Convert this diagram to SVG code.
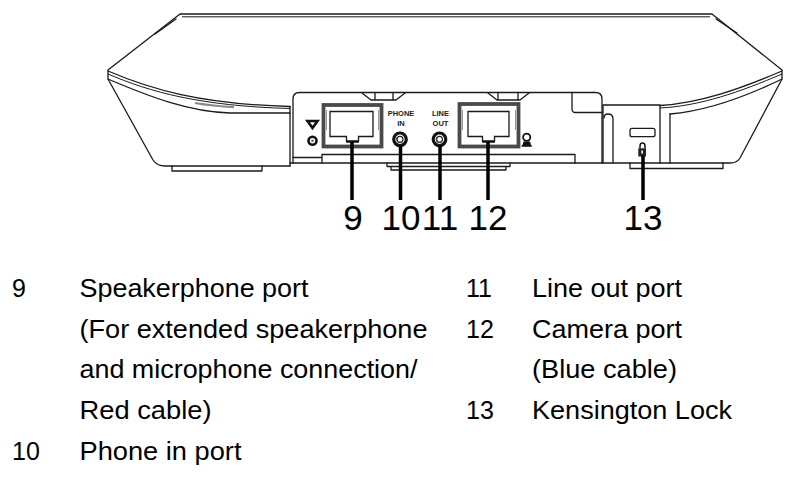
<svg xmlns="http://www.w3.org/2000/svg" width="802" height="503" viewBox="0 0 802 503">
<style>
.ln{fill:none;stroke:#1a1a1a;stroke-width:1.3;stroke-linejoin:round;stroke-linecap:round}
.thin{fill:none;stroke:#1a1a1a;stroke-width:1}
.frame{fill:#fff;stroke:#4a4a4a;stroke-width:3.8}
.mark{stroke:#999;stroke-width:1;fill:none}
.rj{fill:#fff;stroke:#1a1a1a;stroke-width:1.3;stroke-linejoin:miter}
.jack{fill:#fff;stroke:#111;stroke-width:3.2}
.jin{fill:#fff;stroke:#222;stroke-width:1.2}
.lead{stroke:#000;stroke-width:3.5;fill:none}
.num{font-family:"Liberation Sans",Arial,sans-serif;font-size:35px;fill:#000;text-anchor:middle}
.txt{font-family:"Liberation Sans",Arial,sans-serif;font-size:25px;fill:#000}
.lbl{font-family:"Liberation Sans",Arial,sans-serif;font-size:7.5px;font-weight:bold;fill:#222;text-anchor:middle}
</style>
<rect width="802" height="503" fill="#fff"/>
<g id="device">
  <path class="ln" d="M108,78 L108,70 L180,14 L712,14 L782,70 L782,78"/>
  <path class="thin" d="M182,16.8 L710,16.8"/>
  <path class="ln" d="M176,19 L155,34"/>
  <path class="ln" d="M716,19 L737,33"/>
  <path class="ln" d="M108,71 C150,89 200,104 290,106.5"/>
  <path class="thin" d="M108,74 C150,92 200,106 290,108.5"/>
  <path d="M195,103 C210,105.5 222,106.5 234,107.2" stroke="#888" stroke-width="2.2" fill="none"/>
  <path class="ln" d="M108,79 C150,97 190,112 230,113 L290,113"/>
  <path class="ln" d="M108,79 L153,160 Q157,166 165,166 L290,166"/>
  <path class="ln" d="M290,106.5 V166"/>
  <path class="ln" d="M172,166 V171 H262 V166"/>
  <path class="ln" d="M782,71 C740,89 700,103 660,105.5"/>
  <path class="thin" d="M782,74 C740,92 700,106 660,108"/>
  <path class="ln" d="M782,79 C745,97 705,111 670,114"/>
  <path class="ln" d="M782,79 L740,158 Q737,163 730,163 L290,163"/>
  <path class="ln" d="M630,163 V168.5 H723 V163"/>
</g>
<g id="panel">
  <path class="ln" d="M293,163 V99 Q293,92.5 299.5,92.5 H595.5 Q602,92.5 602,99 V163"/>
  <path class="ln" d="M572,92.5 V109 Q572,112.5 575.5,112.5 H602"/>
  <path class="ln" d="M362,93 L371,100 H396 L405,93 M375,100 V93 M393,100 V93"/>
  <path class="ln" d="M488,93 L497,100 H520 L529,93 M498,100 V93 M518,100 V93"/>
  <path class="ln" d="M322,163 V154.5 H575 V163 M293,157.5 H322"/>
  <path class="ln" d="M387,163 V166.5 H510 V163 M391,166.5 V170 H506 V166.5"/>
</g>
<g id="audio-symbol">
  <path d="M307.5,121 H317.5 L312.5,128 Z" fill="none" stroke="#111" stroke-width="2.6" stroke-linejoin="miter"/>
  <circle cx="312.5" cy="140.7" r="4" fill="#fff" stroke="#111" stroke-width="2.6"/>
  <circle cx="312.5" cy="140.7" r="1.3" fill="#666"/>
</g>
<g id="port9">
  <rect class="frame" x="323.5" y="105" width="58" height="41.5"/>
  <path class="mark" d="M326.5,110 V130 M378.5,110 V130"/>
  <path class="rj" d="M330,111.5 H373 V136.5 H358.5 V141.5 H346.5 V136.5 H330 Z"/>
  <path d="M346.5,141.5 H358.5" stroke="#111" stroke-width="2.4"/>
</g>
<g id="port10">
  <text class="lbl" x="401" y="116">PHONE</text>
  <text class="lbl" x="401" y="126">IN</text>
  <circle class="jack" cx="400" cy="139.3" r="6.3"/>
  <circle class="jin" cx="400" cy="139.3" r="3"/>
  <path d="M397.5,137.5 A3,3 0 0 0 397.5,141.1" stroke="#333" stroke-width="1.5" fill="none"/>
</g>
<g id="port11">
  <text class="lbl" x="440.5" y="116">LINE</text>
  <text class="lbl" x="440.5" y="126">OUT</text>
  <circle class="jack" cx="439.5" cy="139.3" r="6.3"/>
  <circle class="jin" cx="439.5" cy="139.3" r="3"/>
  <path d="M437,137.5 A3,3 0 0 0 437,141.1" stroke="#333" stroke-width="1.5" fill="none"/>
</g>
<g id="port12">
  <rect class="frame" x="459.5" y="104" width="59" height="42.5"/>
  <path class="mark" d="M462.5,110 V130 M515.5,110 V130"/>
  <path class="rj" d="M468,111.5 H509 V136.5 H494.5 V141.5 H482.5 V136.5 H468 Z"/>
  <path d="M482.5,141.5 H494.5" stroke="#111" stroke-width="2.4"/>
  <circle cx="526.7" cy="137.3" r="3.6" fill="#fff" stroke="#111" stroke-width="1.8"/>
  <path d="M523.5,141.5 H530 L531,145 H522.5 Z" fill="#111"/>
  <rect x="521.7" y="145" width="10" height="1.8" fill="#111"/>
</g>
<g id="lock13">
  <path class="ln" d="M603,163 V105 H660 V163"/>
  <path class="ln" d="M670,114 V163"/>
  <path class="ln" d="M613,163 V119 Q613,114 608,114 Q604,114 604,118"/>
  <rect x="630" y="128.3" width="25" height="8.4" rx="2" fill="none" stroke="#1a1a1a" stroke-width="1.3"/>
  <path d="M640,148.5 V146 Q640,143 642.5,143 Q645,143 645,146 V148.5" fill="none" stroke="#111" stroke-width="1.5"/>
  <rect x="638.3" y="148.3" width="7.7" height="8.2" fill="#222"/>
  <rect x="641.3" y="150.5" width="1.6" height="3" fill="#fff"/>
</g>
<g id="connectors">
  <path class="lead" d="M352,142 V200"/>
  <path class="lead" d="M400.5,146 V200"/>
  <path class="lead" d="M440,146 V200"/>
  <path class="lead" d="M488,142 V200"/>
  <path class="lead" d="M643,156 V200"/>
</g>
<g id="callouts">
  <text class="num" x="353" y="230">9</text>
  <text class="num" x="401" y="230">10</text>
  <text class="num" x="440" y="230">11</text>
  <text class="num" x="488" y="230">12</text>
  <text class="num" x="643" y="230">13</text>
</g>
<g id="legend">
  <text class="txt" x="12" y="297">9</text>
  <text class="txt" x="79.5" y="297" textLength="229" lengthAdjust="spacingAndGlyphs">Speakerphone port</text>
  <text class="txt" x="79.5" y="337.5" textLength="348" lengthAdjust="spacingAndGlyphs">(For extended speakerphone</text>
  <text class="txt" x="79.5" y="378" textLength="338" lengthAdjust="spacingAndGlyphs">and microphone connection/</text>
  <text class="txt" x="79.5" y="418.5" textLength="132" lengthAdjust="spacingAndGlyphs">Red cable)</text>
  <text class="txt" x="12" y="459.5">10</text>
  <text class="txt" x="79.5" y="459.5" textLength="162" lengthAdjust="spacingAndGlyphs">Phone in port</text>
  <text class="txt" x="466" y="297">11</text>
  <text class="txt" x="532" y="297" textLength="150" lengthAdjust="spacingAndGlyphs">Line out port</text>
  <text class="txt" x="466" y="337.5">12</text>
  <text class="txt" x="532" y="337.5" textLength="150" lengthAdjust="spacingAndGlyphs">Camera port</text>
  <text class="txt" x="532" y="378" textLength="145" lengthAdjust="spacingAndGlyphs">(Blue cable)</text>
  <text class="txt" x="466" y="418.5">13</text>
  <text class="txt" x="532" y="418.5" textLength="200" lengthAdjust="spacingAndGlyphs">Kensington Lock</text>
</g>
</svg>
